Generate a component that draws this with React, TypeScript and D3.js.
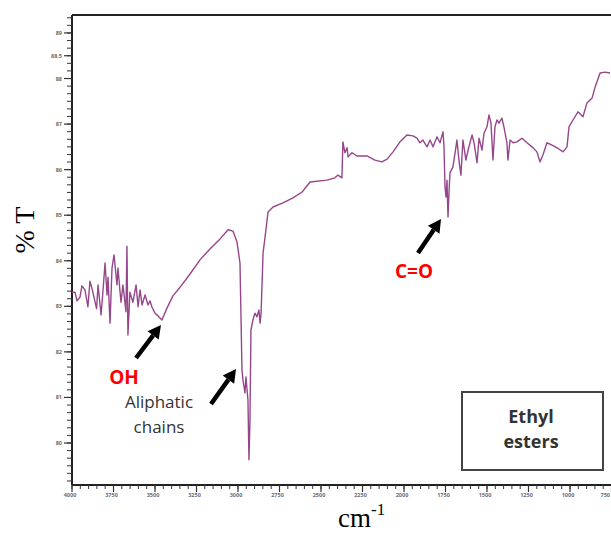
import React from "react";
import * as d3 from "d3";

const wavenumbers = [
  4000, 3982, 3970, 3952, 3940, 3922, 3904, 3892, 3880, 3861, 3852, 3843, 3825, 3813, 3801, 3789, 3783, 3771, 3759, 3747,
  3729, 3723, 3705, 3693, 3675, 3669, 3663, 3651, 3633, 3614, 3602, 3590, 3578, 3560, 3542, 3530, 3518,
  3500, 3482, 3458, 3428, 3392, 3349, 3289, 3229, 3169, 3108, 3060, 3030, 3006, 2988, 2982, 2976,
  2970, 2958, 2952, 2940, 2934, 2928, 2922, 2910, 2898, 2886, 2874, 2867, 2861, 2849, 2837, 2825,
  2819, 2789, 2729, 2669, 2614, 2566, 2464, 2416, 2398, 2374, 2368, 2356, 2343, 2337, 2313, 2283,
  2223, 2175, 2133, 2102, 2066, 2024, 1982, 1946, 1922, 1904, 1886, 1861, 1843, 1825, 1801, 1783,
  1765, 1759, 1753, 1747, 1741, 1735, 1729, 1723, 1705, 1681, 1669, 1657, 1645, 1627, 1614, 1590,
  1578, 1560, 1548, 1530, 1518, 1500, 1488, 1476, 1464, 1452, 1440, 1428, 1410, 1398, 1380, 1374,
  1361, 1343, 1319, 1289, 1259, 1229, 1199, 1181, 1163, 1139, 1108, 1078, 1042, 1018, 1006, 982,
  952, 922, 898, 867, 849, 819, 789, 759,
];

const transmittance = [
  83.31, 83.31, 83.12, 83.2, 83.45, 83.36, 82.99, 83.55, 83.4, 83.09, 82.95, 83.47, 82.81, 83.36, 83.95, 83.25, 83.64, 82.63, 83.84, 84.13,
  83.47, 83.84, 83.09, 83.47, 82.88, 84.32, 82.37, 83.31, 83.09, 83.47, 82.99, 83.36, 83.03, 83.25, 83.03, 83.12, 82.98,
  82.85, 82.79, 82.7, 82.96, 83.23, 83.42, 83.71, 84.02, 84.26, 84.48, 84.68, 84.65, 84.41, 83.95, 82.77, 81.6,
  81.38, 81.1, 81.45, 80.94, 79.63, 80.5, 82.48, 82.7, 82.85, 82.77, 82.92, 82.63, 82.85, 84.17, 84.52, 84.89,
  85.07, 85.18, 85.27, 85.38, 85.51, 85.73, 85.77, 85.82, 85.88, 85.82, 86.61, 86.37, 86.48, 86.28, 86.37, 86.3,
  86.3, 86.21, 86.17, 86.23, 86.39, 86.61, 86.76, 86.74, 86.69, 86.59, 86.65, 86.5, 86.65, 86.5, 86.72, 86.59,
  86.83, 86.5, 85.62, 85.4, 85.77, 84.96, 85.49, 85.93, 86.06, 86.65, 86.21, 85.88, 86.65, 86.21, 86.43, 86.76,
  86.59, 86.15, 86.69, 86.43, 86.8, 86.94, 87.2, 87.02, 86.21, 86.94, 87.09, 87.02, 87.13, 86.94, 86.59, 86.21,
  86.65, 86.59, 86.61, 86.69, 86.59, 86.5, 86.39, 86.17, 86.32, 86.59, 86.54, 86.48, 86.39, 86.5, 86.94, 87.09,
  87.27, 87.16, 87.46, 87.57, 87.81, 88.12, 88.14, 88.12,
];

const xTickLabels = [4000, 3750, 3500, 3250, 3000, 2750, 2500, 2250, 2000, 1750, 1500, 1250, 1000, 750];
const yTickLabels = [80, 81, 82, 83, 84, 85, 86, 87, 88, 88.5, 89];

const W = 611;
const H = 535;
const left = 72;
const top = 15;
const bottom = 485;

export default function App() {
  const x = d3.scaleLinear().domain([4000, 750]).range([left, left + 13 * 41.5]);
  const y = d3.scaleLinear().domain([80, 89]).range([443, 443 - 9 * 45.56]);

  const pts = wavenumbers.map((w, i) => [w, transmittance[i]] as [number, number]);
  const line = d3
    .line<[number, number]>()
    .x((d) => x(d[0]))
    .y((d) => y(d[1]));

  const xMinor: number[] = [];
  for (let v = 4000; v >= 700; v -= 50) if (x(v) <= W) xMinor.push(v);
  const yMinor: number[] = [];
  for (let k = 0; k < 200; k++) {
    const v = 89 + 2 / 6 - k / 6;
    if (y(v) > bottom) break;
    yMinor.push(v);
  }

  const arrow = (x1: number, y1: number, x2: number, y2: number, key: string) => {
    const ang = Math.atan2(y2 - y1, x2 - x1);
    const hl = 13;
    const hw = 7;
    const bx = x2 - hl * Math.cos(ang);
    const by = y2 - hl * Math.sin(ang);
    const px = -Math.sin(ang);
    const py = Math.cos(ang);
    return (
      <g key={key}>
        <line x1={x1} y1={y1} x2={bx} y2={by} stroke="#000" strokeWidth={4.5} />
        <path
          d={`M${x2},${y2}L${bx + px * hw},${by + py * hw}L${bx - px * hw},${by - py * hw}Z`}
          fill="#000"
        />
      </g>
    );
  };

  return (
    <svg
      width={W}
      height={H}
      style={{ position: "absolute", left: 0, top: 0, background: "#fff" }}
      xmlns="http://www.w3.org/2000/svg"
    >
      <rect x={0} y={0} width={W} height={H} fill="#fff" />
      {/* frame */}
      <line x1={left} y1={top} x2={W} y2={top} stroke="#222" strokeWidth={2} />
      <line x1={left} y1={top} x2={left} y2={bottom} stroke="#222" strokeWidth={2} />
      <line x1={left} y1={bottom} x2={W} y2={bottom} stroke="#222" strokeWidth={2} />

      {/* y ticks */}
      {yMinor.map((v, i) => (
        <line key={"ym" + i} x1={left - 5} x2={left} y1={y(v)} y2={y(v)} stroke="#333" strokeWidth={1} />
      ))}
      {yTickLabels.map((v) => (
        <g key={"yl" + v}>
          <line x1={left - 8} x2={left} y1={y(v)} y2={y(v)} stroke="#333" strokeWidth={1.2} />
          <text
            x={left - 10}
            y={y(v) + 2}
            fontSize={5.5}
            fontFamily="Open Sans"
            fontWeight="bold"
            fill="#7a6a55"
            textAnchor="end"
          >
            {v}
          </text>
        </g>
      ))}

      {/* x ticks */}
      {xMinor.map((v, i) => (
        <line key={"xm" + i} x1={x(v)} x2={x(v)} y1={bottom} y2={bottom + 4} stroke="#333" strokeWidth={1} />
      ))}
      {xTickLabels.map((v, i) => (
        <g key={"xl" + v}>
          <line x1={x(v)} x2={x(v)} y1={bottom} y2={bottom + 7} stroke="#333" strokeWidth={1.2} />
          <text
            x={i === xTickLabels.length - 1 ? W - 1 : x(v) - 2}
            y={bottom + 12}
            fontSize={5.5}
            fontFamily="Open Sans"
            fontWeight="bold"
            fill="#6a6a80"
            textAnchor={i === xTickLabels.length - 1 ? "end" : "middle"}
          >
            {v}
          </text>
        </g>
      ))}

      {/* spectrum */}
      <path d={line(pts) || ""} fill="none" stroke="#96478c" strokeWidth={1.4} strokeLinejoin="round" />

      {/* axis titles */}
      <text
        transform="translate(34,230) rotate(-90)"
        fontFamily="Liberation Serif, Times New Roman, serif"
        fontSize={28}
        textAnchor="middle"
        fill="#000"
      >
        % T
      </text>
      <text x={338} y={527} fontFamily="Liberation Serif, Times New Roman, serif" fontSize={27} fill="#000">
        cm
        <tspan fontSize={17} dy={-12}>
          -1
        </tspan>
      </text>

      {/* annotations */}
      {arrow(136, 358, 161, 325, "a1")}
      {arrow(211, 404, 236, 369, "a2")}
      {arrow(418, 253, 441, 219, "a3")}

      <text x={124} y={384} fontFamily="Open Sans" fontWeight="bold" fontSize={19} fill="#ff0000" textAnchor="middle">
        OH
      </text>
      <text x={159} y={408} fontFamily="Open Sans" fontSize={17} fill="#333" textAnchor="middle">
        Aliphatic
      </text>
      <text x={159} y={433} fontFamily="Open Sans" fontSize={17} fill="#333" textAnchor="middle">
        chains
      </text>
      <text x={414} y={278} fontFamily="Open Sans" fontWeight="bold" fontSize={19} fill="#ff0000" textAnchor="middle">
        C=O
      </text>

      {/* legend box */}
      <rect x={462} y={392} width={141} height={78} fill="#fff" stroke="#444" strokeWidth={2} />
      <text x={531} y={423} fontFamily="Open Sans" fontWeight="bold" fontSize={18} fill="#333" textAnchor="middle">
        Ethyl
      </text>
      <text x={531} y={448} fontFamily="Open Sans" fontWeight="bold" fontSize={18} fill="#333" textAnchor="middle">
        esters
      </text>
    </svg>
  );
}
